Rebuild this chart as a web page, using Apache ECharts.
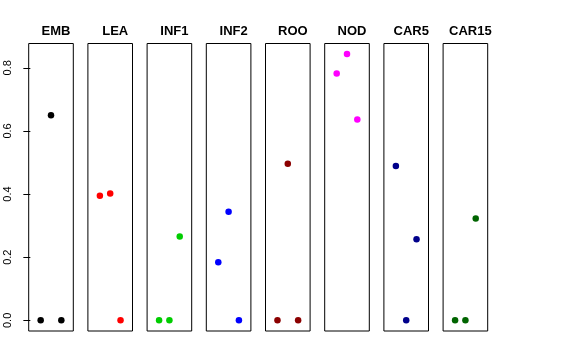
<!DOCTYPE html>
<html>
<head>
<meta charset="utf-8">
<script src="https://cdn.jsdelivr.net/npm/echarts@6/dist/echarts.min.js"></script>
<style>html,body{margin:0;padding:0;background:#fff}#c{width:576px;height:360px}</style>
</head>
<body>
<div id="c"></div>
<script>
const panelNames = ['EMB','LEA','INF1','INF2','ROO','NOD','CAR5','CAR15'];
const panelColors = ['#000000','#FF0000','#00CD00','#0000FF','#8B0000','#FF00FF','#00008B','#006400'];
const xPositions = [1, 2, 3];
const panelValues = [
  [0, 0.650, 0],
  [0.395, 0.402, 0],
  [0, 0, 0.266],
  [0.184, 0.344, 0],
  [0, 0.496, 0],
  [0.782, 0.844, 0.636],
  [0.489, 0, 0.257],
  [0, 0, 0.323]
];
const yTicks = [0, 0.2, 0.4, 0.6, 0.8];
const yTickLabels = ['0.0','0.2','0.4','0.6','0.8'];

const chart = echarts.init(document.getElementById('c'), null, {renderer:'canvas'});
const grids = [], xAxes = [], yAxes = [], series = [], titles = [];
const gLeft0 = 28.7, gStep = 59.2, gW = 44.6, gTop = 43.5, gH = 287.5;
panelNames.forEach((name, i) => {
  const left = gLeft0 + i * gStep;
  grids.push({left: left, top: gTop, width: gW, height: gH, show: true, borderColor: '#000', borderWidth: 1, backgroundColor: 'transparent', containLabel: false});
  xAxes.push({type: 'value', gridIndex: i, min: -0.16, max: 4.16, show: false});
  yAxes.push({
    type: 'value', gridIndex: i, min: -0.0337, max: 0.877, show: i === 0,
    splitLine: {show: false},
    axisLine: {show: false},
    axisTick: {show: i === 0, length: 7, inside: false, lineStyle: {color: '#000'}, customValues: yTicks},
    axisLabel: {show: i === 0, rotate: 90, margin: 15, fontSize: 11, color: '#000', fontFamily: 'Liberation Sans',
      customValues: yTicks, formatter: v => yTickLabels[yTicks.findIndex(t => Math.abs(t - v) < 1e-9)] || ''}
  });
  series.push({
    type: 'scatter', xAxisIndex: i, yAxisIndex: i, symbolSize: 6.5,
    itemStyle: {color: panelColors[i], opacity: 1},
    data: xPositions.map((x, k) => [x, panelValues[i][k]]),
    silent: true, animation: false
  });
  titles.push({text: name, left: left + gW / 2, top: 20, textAlign: 'center',
    textStyle: {fontSize: 13, fontWeight: 'bold', color: '#000', fontFamily: 'Liberation Sans'}});
});
chart.setOption({
  animation: false,
  backgroundColor: '#fff',
  title: titles,
  grid: grids,
  xAxis: xAxes,
  yAxis: yAxes,
  series: series
});
</script>
</body>
</html>
